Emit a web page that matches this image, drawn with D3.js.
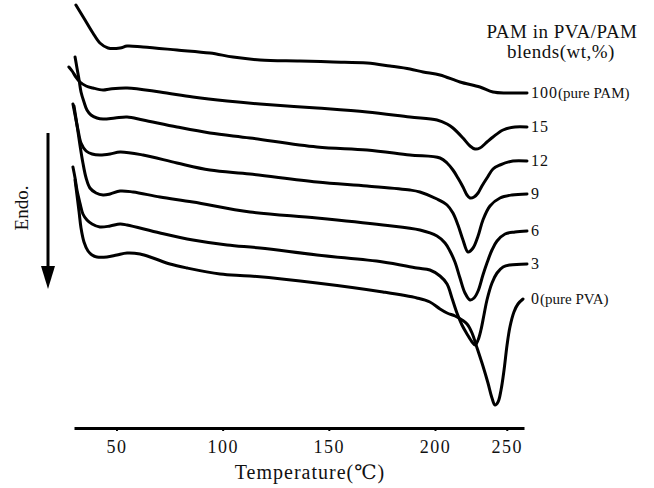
<!DOCTYPE html>
<html><head><meta charset="utf-8">
<script src="https://cdn.jsdelivr.net/npm/d3@7"></script>
<style>
body{margin:0;background:#fff}
text{font-family:"Liberation Serif","DejaVu Serif",serif;fill:#111}
</style>
</head><body>
<svg id="c" width="654" height="488"></svg>
<script>
// ---- data (temperature in degC, heat flow in arbitrary units; endo down) ----
const categories = ["100", "15", "12", "9", "6", "3", "0"];
const categoryNotes = ["(pure PAM)", "", "", "", "", "", "(pure PVA)"];
const tickValues = [50, 100, 150, 200, 250];
const tickLabels = ["50", "100", "150", "200", "250"];

const pam100T = [30.9,35.2,38.9,42.2,46.0,51.7,55.0,62.5,78.5,94.0,104.9,117.6,136.4,152.0,168.0,178.8,188.2,194.4,203.5,217.4,231.3,240.4,250.2,264.1];
const pam100H = [415,400,387,377,372,372,374,373,370,367,363,360,359,358,357,354,351,348,345,338,333,328,327,327];

const pam15T = [27.6,29.1,30.9,32.8,35.7,38.9,43.7,47.0,55.0,70.5,86.0,102.1,117.6,144.4,168.0,188.2,201.4,208.4,212.5,219.5,224.4,227.9,231.3,236.2,240.4,247.4,255.7,264.1];
const pam15H = [353,349,343,338,334,332,330,331,332,328,323,319,316,312,308,303,300,296,292,282,274,271,272,278,283,290,293,293];

const pam12T = [30.5,31.4,32.4,33.3,34.7,36.1,38.0,40.8,43.7,49.3,55.0,62.5,78.5,94.0,112.9,144.4,168.0,188.2,203.5,208.4,212.5,216.0,219.5,222.3,224.4,227.2,230.0,232.7,236.2,240.4,245.3,254.3,264.1];
const pam12H = [363,352,340,328,318,310,305,302,301,302,303,300,293,287,282,273,270,265,262,257,250,242,233,225,222,223,227,234,242,251,255,259,259];

const pam9T = [29.5,30.5,31.9,33.3,35.7,38.5,42.2,47.0,51.7,62.5,78.5,94.0,112.9,144.4,168.0,188.2,192.9,201.4,208.4,212.5,216.0,219.5,223.0,226.5,230.0,233.4,238.3,245.3,253.6,264.1];
const pam9H = [316,305,290,277,269,266,265,266,268,265,257,250,246,238,234,230,228,221,215,207,195,180,168,172,184,200,214,222,225,226];

const pam6T = [30.0,31.4,32.8,34.2,35.7,37.5,40.4,43.7,47.0,51.7,57.8,70.5,86.0,112.9,144.4,175.5,192.9,201.4,207.0,210.4,213.9,217.4,220.9,224.4,227.2,230.0,233.4,236.2,239.7,243.2,248.8,255.7,264.1];
const pam6H = [314,295,275,257,242,232,227,225,226,229,228,223,218,208,202,195,190,184,177,169,158,142,127,120,122,129,145,157,170,179,186,188,189];

const pam3T = [29.5,30.5,31.4,32.8,34.2,36.1,38.5,42.2,47.0,51.7,55.0,70.5,86.0,102.1,117.6,144.4,175.5,191.5,197.6,203.5,208.4,211.8,215.3,218.8,222.3,225.8,227.9,230.0,232.0,234.1,236.2,239.7,243.2,247.4,252.2,264.1];
const pam3H = [253,242,230,217,206,200,196,193,194,196,195,187,180,175,172,165,158,152,150,144,136,122,107,95,86,78,75,80,90,105,120,137,147,153,155,156];

const pam0T = [30.5,31.4,32.4,33.3,34.7,36.6,38.5,40.8,45.5,50.2,55.0,61.1,67.2,75.2,83.2,98.8,112.9,144.4,175.5,191.5,197.6,203.5,208.4,214.0,218.8,222.3,225.8,229.3,233.4,236.9,239.7,241.8,243.9,246.0,248.1,250.2,252.2,255.0,257.8,261.3];
const pam0H = [240,225,208,192,178,169,165,163,163,165,167,166,162,156,152,146,144,137,128,122,118,111,107,104,100,96,87,72,54,37,22,15,18,30,50,75,93,108,116,121];

const seriesT = [pam100T, pam15T, pam12T, pam9T, pam6T, pam3T, pam0T];
const seriesH = [pam100H, pam15H, pam12H, pam9H, pam6H, pam3H, pam0H];

// ---- chart ----
const svg = d3.select("#c");
// the original axis is stretched below 200 and compressed above it
const x = d3.scaleLinear().domain([30, 200, 262]).range([74, 435, 524]);
const y = d3.scaleLinear().domain([0, 420]).range([420, 0]);
const axisY = 428;
const xEnd = x.range()[x.range().length - 1];

const line = d3.line()
  .x(d => x(d[0])).y(d => y(d[1]))
  .curve(d3.curveCatmullRom.alpha(0.5));

seriesT.forEach((t, i) => {
  const pts = d3.zip(t, seriesH[i]);
  svg.append("path").datum(pts)
    .attr("d", line)
    .attr("fill", "none")
    .attr("stroke", "#000")
    .attr("stroke-width", 3)
    .attr("stroke-linejoin", "round")
    .attr("stroke-linecap", "round");
  const last = pts[pts.length - 1];
  const lab = svg.append("text")
    .attr("x", xEnd + 7)
    .attr("y", y(last[1]) + 5);
  lab.append("tspan").attr("font-size", 16).attr("letter-spacing", 1).text(categories[i]);
  if (categoryNotes[i]) lab.append("tspan").attr("font-size", 15).text(categoryNotes[i]);
});

// x axis
const ax = svg.append("g")
  .attr("transform", `translate(0,${axisY})`)
  .call(d3.axisBottom(x)
    .tickValues(tickValues)
    .tickFormat((d, i) => tickLabels[i])
    .tickSize(3).tickSizeOuter(0).tickPadding(9));
ax.select(".domain").attr("stroke", "#000").attr("stroke-width", 3);
ax.selectAll(".tick line").attr("stroke", "#000").attr("stroke-width", 2);
ax.selectAll(".tick text")
  .attr("font-family", "Liberation Serif, DejaVu Serif, serif")
  .attr("font-size", 18).attr("letter-spacing", 1.5).attr("fill", "#111");

svg.append("text")
  .attr("x", 310).attr("y", 479)
  .attr("text-anchor", "middle")
  .attr("font-size", 20)
  .attr("letter-spacing", 1)
  .text("Temperature(℃)");

// legend title
svg.append("text").attr("x", 562).attr("y", 38)
  .attr("text-anchor", "middle").attr("font-size", 19)
  .attr("letter-spacing", 0.5)
  .text("PAM in PVA/PAM");
svg.append("text").attr("x", 561).attr("y", 58)
  .attr("text-anchor", "middle").attr("font-size", 19)
  .attr("letter-spacing", 0.5)
  .text("blends(wt,%)");

// Endo. arrow
svg.append("text")
  .attr("transform", "translate(28,208) rotate(-90)")
  .attr("text-anchor", "middle").attr("font-size", 19)
  .text("Endo.");
svg.append("line")
  .attr("x1", 48).attr("x2", 48).attr("y1", 133).attr("y2", 270)
  .attr("stroke", "#000").attr("stroke-width", 3);
svg.append("path")
  .attr("d", "M41,266 L55,266 L48,289 Z")
  .attr("fill", "#000");
</script>
</body></html>
